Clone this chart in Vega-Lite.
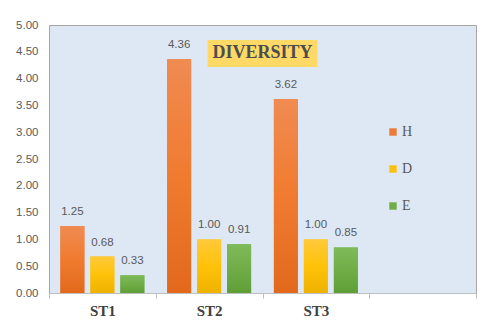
{
  "$schema": "https://vega.github.io/schema/vega-lite/v6.json",
  "autosize": {"type": "none"},
  "padding": {"left": 49, "top": 25, "right": 4, "bottom": 30},
  "width": 427,
  "height": 268,
  "background": "white",
  "config": {
    "view": {"fill": "#dde8f4", "stroke": "#a6a6a6", "strokeWidth": 1},
    "axisY": {
      "title": null, "format": ".2f", "domain": false, "ticks": false, "grid": false,
      "labelOverlap": false, "labelFont": "Liberation Sans", "labelFontSize": 11.5,
      "labelColor": "#595959", "labelPadding": 11
    },
    "axisX": {
      "title": null, "labelAngle": 0, "tickBand": "extent",
      "labelFont": "Liberation Serif", "labelFontWeight": "bold", "labelFontSize": 15,
      "labelColor": "#404040", "labelPadding": 5,
      "domainColor": "#bfbfbf", "tickColor": "#bfbfbf", "tickSize": 5
    }
  },
  "datasets": {
    "diversity": [
      {"site": "ST1", "index": "H", "value": 1.25},
      {"site": "ST1", "index": "D", "value": 0.68},
      {"site": "ST1", "index": "E", "value": 0.33},
      {"site": "ST2", "index": "H", "value": 4.36},
      {"site": "ST2", "index": "D", "value": 1.00},
      {"site": "ST2", "index": "E", "value": 0.91},
      {"site": "ST3", "index": "H", "value": 3.62},
      {"site": "ST3", "index": "D", "value": 1.00},
      {"site": "ST3", "index": "E", "value": 0.85}
    ],
    "heading": [{"label": "DIVERSITY"}]
  },
  "layer": [
    {
      "data": {"name": "diversity"},
      "mark": {"type": "bar"},
      "encoding": {
        "x": {
          "field": "site", "type": "nominal", "title": null,
          "scale": {"domain": ["ST1", "ST2", "ST3", " "], "paddingInner": 0, "paddingOuter": 0}
        },
        "y": {
          "field": "value", "type": "quantitative", "title": null,
          "scale": {"domain": [0, 5], "nice": false},
          "axis": {"values": [0, 0.5, 1, 1.5, 2, 2.5, 3, 3.5, 4, 4.5, 5]}
        },
        "xOffset": {
          "field": "index", "type": "nominal",
          "scale": {"domain": ["H", "D", "E"], "paddingInner": 0.2, "paddingOuter": 0.38}
        },
        "color": {
          "field": "index", "type": "nominal",
          "scale": {"domain": ["H", "D", "E"], "range": ["#eb7a36", "#fcc00f", "#70ad47"]},
          "legend": {
            "orient": "none", "legendX": 337, "legendY": 100, "title": null,
            "symbolType": "square", "symbolSize": 55, "symbolStrokeWidth": 0,
            "labelFont": "Liberation Serif", "labelFontSize": 14, "labelColor": "#595959",
            "rowPadding": 23, "labelOffset": 2
          }
        }
      }
    },
    {
      "data": {"name": "diversity"},
      "transform": [{"filter": "datum.index === 'H'"}],
      "mark": {"type": "bar", "color": {"gradient": "linear", "x1": 0, "y1": 0, "x2": 0, "y2": 1, "stops": [{"offset": 0, "color": "#f08b52"}, {"offset": 0.5, "color": "#f07b2f"}, {"offset": 1, "color": "#e2691c"}]}},
      "encoding": {
        "x": {"field": "site", "type": "nominal", "title": null},
        "y": {"field": "value", "type": "quantitative", "title": null,
          "axis": {"values": [0, 0.5, 1, 1.5, 2, 2.5, 3, 3.5, 4, 4.5, 5]}},
        "xOffset": {"field": "index", "type": "nominal",
          "scale": {"domain": ["H", "D", "E"], "paddingInner": 0.2, "paddingOuter": 0.38}}
      }
    },
    {
      "data": {"name": "diversity"},
      "transform": [{"filter": "datum.index === 'D'"}],
      "mark": {"type": "bar", "color": {"gradient": "linear", "x1": 0, "y1": 0, "x2": 0, "y2": 1, "stops": [{"offset": 0, "color": "#ffc93a"}, {"offset": 0.5, "color": "#ffc20a"}, {"offset": 1, "color": "#eeb200"}]}},
      "encoding": {
        "x": {"field": "site", "type": "nominal", "title": null},
        "y": {"field": "value", "type": "quantitative", "title": null,
          "axis": {"values": [0, 0.5, 1, 1.5, 2, 2.5, 3, 3.5, 4, 4.5, 5]}},
        "xOffset": {"field": "index", "type": "nominal",
          "scale": {"domain": ["H", "D", "E"], "paddingInner": 0.2, "paddingOuter": 0.38}}
      }
    },
    {
      "data": {"name": "diversity"},
      "transform": [{"filter": "datum.index === 'E'"}],
      "mark": {"type": "bar", "color": {"gradient": "linear", "x1": 0, "y1": 0, "x2": 0, "y2": 1, "stops": [{"offset": 0, "color": "#7fba5a"}, {"offset": 0.5, "color": "#70ad47"}, {"offset": 1, "color": "#5f9e36"}]}},
      "encoding": {
        "x": {"field": "site", "type": "nominal", "title": null},
        "y": {"field": "value", "type": "quantitative", "title": null,
          "axis": {"values": [0, 0.5, 1, 1.5, 2, 2.5, 3, 3.5, 4, 4.5, 5]}},
        "xOffset": {"field": "index", "type": "nominal",
          "scale": {"domain": ["H", "D", "E"], "paddingInner": 0.2, "paddingOuter": 0.38}}
      }
    },
    {
      "data": {"name": "diversity"},
      "mark": {"type": "text", "baseline": "bottom", "dy": -9, "font": "Liberation Sans", "fontSize": 11.5, "color": "#595959"},
      "encoding": {
        "x": {"field": "site", "type": "nominal", "title": null},
        "y": {
          "field": "value", "type": "quantitative", "title": null,
          "axis": {"values": [0, 0.5, 1, 1.5, 2, 2.5, 3, 3.5, 4, 4.5, 5]}
        },
        "xOffset": {
          "field": "index", "type": "nominal",
          "scale": {"domain": ["H", "D", "E"], "paddingInner": 0.2, "paddingOuter": 0.38}
        },
        "text": {"field": "value", "type": "quantitative", "format": ".2f"}
      }
    },
    {
      "data": {"name": "heading"},
      "mark": {"type": "point", "shape": "M-1,-0.245H1V0.245H-1Z", "size": 12100, "filled": true, "color": "#ffd966", "opacity": 1, "strokeWidth": 0},
      "encoding": {
        "x": {"datum": "ST3", "type": "nominal", "bandPosition": 0, "title": null},
        "y": {"datum": 4.47, "type": "quantitative", "title": null,
          "axis": {"values": [0, 0.5, 1, 1.5, 2, 2.5, 3, 3.5, 4, 4.5, 5]}}
      }
    },
    {
      "data": {"name": "heading"},
      "mark": {"type": "text", "font": "Liberation Serif", "fontWeight": "bold", "fontSize": 18, "color": "#4d4d4d", "baseline": "middle"},
      "encoding": {
        "x": {"datum": "ST3", "type": "nominal", "bandPosition": 0, "title": null},
        "y": {"datum": 4.47, "type": "quantitative", "title": null,
          "axis": {"values": [0, 0.5, 1, 1.5, 2, 2.5, 3, 3.5, 4, 4.5, 5]}},
        "text": {"field": "label"}
      }
    }
  ]
}
